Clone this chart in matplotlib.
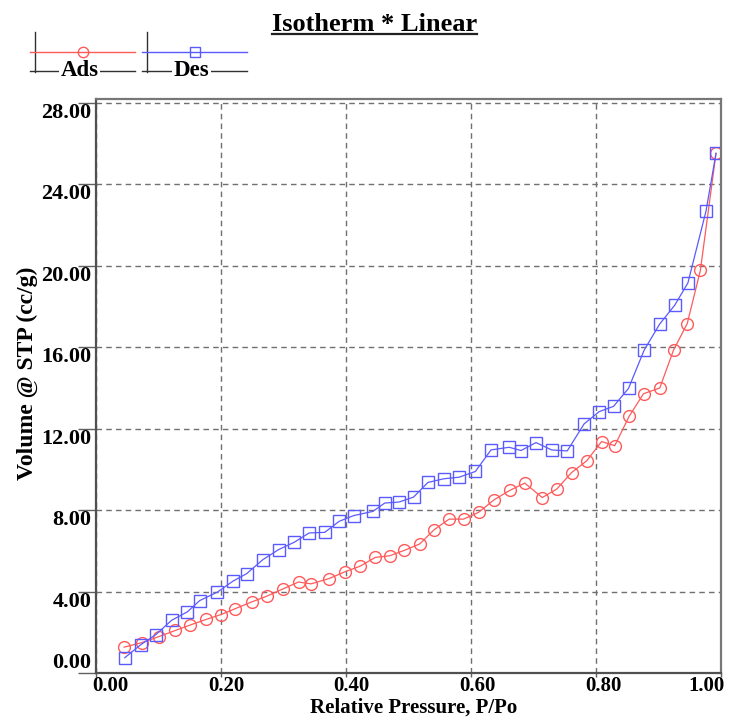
from matplotlib import pyplot as plt
from matplotlib.lines import Line2D
import matplotlib.transforms as mtransforms
import numpy as np

# adsorption branch
ads_p = [0.045, 0.073, 0.100, 0.127, 0.150, 0.176, 0.200, 0.222, 0.249, 0.273,
         0.299, 0.324, 0.344, 0.373, 0.398, 0.422, 0.447, 0.470, 0.493, 0.518,
         0.541, 0.565, 0.588, 0.612, 0.637, 0.662, 0.686, 0.714, 0.737, 0.761,
         0.785, 0.809, 0.830, 0.853, 0.876, 0.902, 0.924, 0.946, 0.967, 0.992]
ads_v = [1.27, 1.49, 1.78, 2.09, 2.35, 2.63, 2.87, 3.15, 3.49, 3.77,
         4.13, 4.47, 4.38, 4.64, 4.97, 5.24, 5.68, 5.76, 6.02, 6.34,
         7.04, 7.56, 7.56, 7.89, 8.51, 8.97, 9.33, 8.62, 9.03, 9.85,
         10.42, 11.37, 11.17, 12.61, 13.72, 14.00, 15.86, 17.17, 19.78, 25.53]

# desorption branch
des_p = [0.046, 0.072, 0.096, 0.121, 0.146, 0.166, 0.194, 0.219, 0.241, 0.267,
         0.292, 0.317, 0.341, 0.366, 0.389, 0.412, 0.443, 0.462, 0.485, 0.508,
         0.531, 0.556, 0.581, 0.607, 0.632, 0.661, 0.680, 0.704, 0.729, 0.754,
         0.781, 0.805, 0.828, 0.852, 0.877, 0.902, 0.926, 0.947, 0.976, 0.992]
des_v = [0.75, 1.40, 1.89, 2.59, 3.00, 3.56, 3.97, 4.51, 4.88, 5.57,
         6.06, 6.42, 6.88, 6.91, 7.45, 7.73, 7.94, 8.35, 8.40, 8.64,
         9.36, 9.54, 9.62, 9.90, 10.96, 11.09, 10.93, 11.32, 10.96, 10.91,
         12.24, 12.84, 13.10, 13.98, 15.86, 17.15, 18.07, 19.16, 22.69, 25.53]

x_ticks = [0.0, 0.2, 0.4, 0.6, 0.8, 1.0]
y_ticks = [0, 4, 8, 12, 16, 20, 24, 28]

RED = '#ff5a5a'
BLUE = '#5a5aff'
W, H = 731, 721

plt.rcParams['font.family'] = ['Liberation Serif', 'DejaVu Serif']
plt.rcParams['font.weight'] = 'bold'

fig = plt.figure(figsize=(W / 100, H / 100), dpi=100)
ax = fig.add_axes([96 / W, 1 - 673 / H, 625 / W, 574 / H])

ax.plot(ads_p, ads_v, color=RED, lw=0.9, marker='o', ms=8.5, mfc='none', mec=RED, mew=1.0)
ax.plot(des_p, des_v, color=BLUE, lw=0.9, marker='s', ms=8, mfc='none', mec=BLUE, mew=1.0)

ax.set_xlim(0, 1.0)
ax.set_ylim(0, 28.2)
ax.set_xticks(x_ticks)
ax.set_yticks(y_ticks)
ax.set_xticklabels(['%.2f' % v for v in x_ticks])
ax.set_yticklabels(['%.2f' % v for v in y_ticks])
ax.grid(True, color='#707070', linestyle=(0, (4, 3)), linewidth=1.0)

for s in ['left', 'bottom']:
    ax.spines[s].set_color('#505050')
    ax.spines[s].set_linewidth(1.6)
for s in ['top', 'right']:
    ax.spines[s].set_color('#777777')
    ax.spines[s].set_linewidth(1.6)

ax.tick_params(axis='y', length=13, width=1.0, color='#606060', pad=-9.5, labelsize=16)
ax.tick_params(axis='x', length=3, width=1.0, color='#606060', pad=-0.8, labelsize=15)
for lab in ax.get_yticklabels():
    lab.set_va('top')
ax.get_yticklabels()[0].set_va('bottom')

xl = ax.get_xticklabels()
xl[0].set_ha('left')
xl[-1].set_ha('right')
shifts = [-4, 5, 5, 6, 7, 4]
for lab, dx in zip(xl, shifts):
    off = mtransforms.ScaledTranslation(dx / 100, 0, fig.dpi_scale_trans)
    lab.set_transform(lab.get_transform() + off)

ax.set_xlabel('Relative Pressure, P/Po', fontsize=15, fontweight='bold')
ax.xaxis.set_label_coords(0.5 + 5 / 625, -25 / 574)
ax.set_ylabel('Volume @ STP (cc/g)', fontsize=17, fontweight='bold')
ax.yaxis.set_label_coords(-58 / 625, 0.522)


def px(x, y):
    return x / W, 1 - y / H


# title with underline
tx, ty = px(374.5, 31)
title = fig.text(tx, ty, 'Isotherm * Linear', fontsize=19, fontweight='bold',
                 ha='center', va='baseline')
fig.canvas.draw()
bb = title.get_window_extent()
uy = 1 - 34 / H
fig.add_artist(Line2D([bb.x0 / W, bb.x1 / W], [uy, uy], color='#202020', lw=1.6))

# legend, drawn in the instrument style
legend_items = [('Ads', RED, 'o', 30, 135), ('Des', BLUE, 's', 142, 247)]
for name, col, mk, x0, x1 in legend_items:
    xs = [x0 / W, x1 / W]
    fig.add_artist(Line2D([(x0 + 5) / W] * 2, [1 - 32 / H, 1 - 72 / H], color='#303030', lw=1.0))
    fig.add_artist(Line2D(xs, [1 - 52 / H] * 2, color=col, lw=1.0))
    fig.add_artist(Line2D([(x0 + x1) / 2 / W], [1 - 52 / H], color=col, marker=mk,
                          ms=7.5, mfc='none', mec=col, mew=1.0))
    fig.add_artist(Line2D(xs, [1 - 71 / H] * 2, color='#303030', lw=1.0))
    lx, ly = px((x0 + x1) / 2 - 3, 71)
    fig.text(lx, ly, name, fontsize=16.5, fontweight='bold', ha='center', va='center',
             bbox=dict(facecolor='white', edgecolor='none', pad=1.0))

fig.savefig('out.png', dpi=100)
